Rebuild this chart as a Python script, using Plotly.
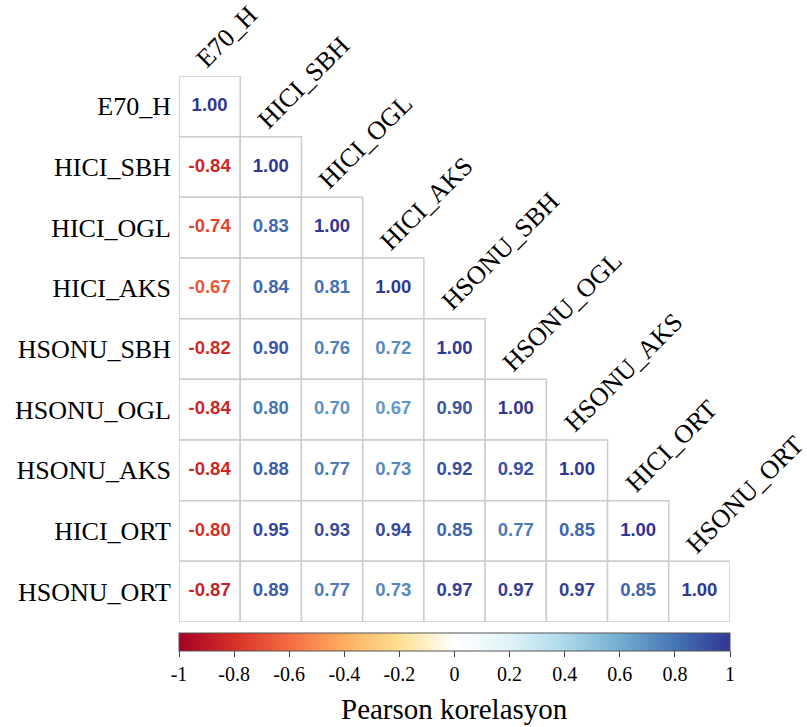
import plotly.graph_objects as go
from plotly.colors import sample_colorscale

variables = ["E70_H", "HICI_SBH", "HICI_OGL", "HICI_AKS", "HSONU_SBH",
             "HSONU_OGL", "HSONU_AKS", "HICI_ORT", "HSONU_ORT"]

# lower-triangle rows (including diagonal)
corr_rows = [
    [1.00],
    [-0.84, 1.00],
    [-0.74, 0.83, 1.00],
    [-0.67, 0.84, 0.81, 1.00],
    [-0.82, 0.90, 0.76, 0.72, 1.00],
    [-0.84, 0.80, 0.70, 0.67, 0.90, 1.00],
    [-0.84, 0.88, 0.77, 0.73, 0.92, 0.92, 1.00],
    [-0.80, 0.95, 0.93, 0.94, 0.85, 0.77, 0.85, 1.00],
    [-0.87, 0.89, 0.77, 0.73, 0.97, 0.97, 0.97, 0.85, 1.00],
]

colorbar_ticks = [-1, -0.8, -0.6, -0.4, -0.2, 0, 0.2, 0.4, 0.6, 0.8, 1]
colorbar_ticktext = ["-1", "-0.8", "-0.6", "-0.4", "-0.2", "0", "0.2", "0.4", "0.6", "0.8", "1"]
colorbar_title = "Pearson korelasyon"

palette = ["#A50026", "#D73027", "#F46D43", "#FDAE61", "#FEE090", "#FFFFFF",
           "#E0F3F8", "#ABD9E9", "#74ADD1", "#4575B4", "#313695"]
colorscale = [[i / (len(palette) - 1), c] for i, c in enumerate(palette)]

serif = "Liberation Serif, Times New Roman, serif"

xs, ys, vals, texts = [], [], [], []
for i, row in enumerate(corr_rows):
    for j, v in enumerate(row):
        xs.append(j)
        ys.append(i)
        vals.append(v)
        texts.append(f"{v:.2f}")

text_colors = sample_colorscale(colorscale, [(v + 1) / 2 for v in vals])

fig = go.Figure()

# cell rectangles
for x, y in zip(xs, ys):
    fig.add_shape(type="rect", xref="x", yref="y",
                  x0=x - 0.5, x1=x + 0.5, y0=y - 0.5, y1=y + 0.5,
                  fillcolor="white", line=dict(color="#cccccc", width=1.5),
                  layer="below")

fig.add_trace(go.Scatter(
    x=xs, y=ys, mode="markers+text", text=texts,
    textposition="middle center",
    textfont=dict(family="Liberation Sans, Arial, sans-serif", size=18.5,
                  color=text_colors, weight="bold"),
    marker=dict(size=1, opacity=0, color=vals, colorscale=colorscale,
                cmin=-1, cmax=1, showscale=True,
                colorbar=dict(
                    orientation="h", x=0.5, xanchor="center",
                    y=-0.021, yanchor="top", len=1, lenmode="fraction",
                    thickness=18, xpad=0, ypad=0,
                    outlinewidth=1, outlinecolor="#555555",
                    ticks="outside", ticklen=6, tickcolor="#444444",
                    tickvals=colorbar_ticks, ticktext=colorbar_ticktext,
                    tickfont=dict(family=serif, size=20, color="black"),
                )),
    hoverinfo="skip", showlegend=False,
))

# colorbar title
fig.add_annotation(x=0.5, y=-0.159, xref="paper", yref="paper",
                   text=colorbar_title, showarrow=False,
                   xanchor="center", yanchor="middle",
                   font=dict(family=serif, size=29, color="black"))

# column labels
for j, name in enumerate(variables):
    fig.add_annotation(x=j - 0.5, y=j - 0.5, xref="x", yref="y",
                       text=name, showarrow=False, textangle=-45,
                       xanchor="left", yanchor="bottom", xshift=9, yshift=0,
                       font=dict(family=serif, size=26, color="black"))

fig.update_xaxes(range=[-0.5, 8.5], visible=False, fixedrange=True)
fig.update_yaxes(range=[8.5, -0.5], tickvals=list(range(len(variables))),
                 ticktext=variables, showgrid=False, zeroline=False,
                 showline=False, ticks="", ticklabelstandoff=7,
                 tickfont=dict(family=serif, size=26, color="black"))

fig.update_layout(
    width=807, height=727,
    margin=dict(l=179, r=77, t=76, b=105, autoexpand=False),
    plot_bgcolor="white", paper_bgcolor="white",
)

fig.write_html("out.html")
